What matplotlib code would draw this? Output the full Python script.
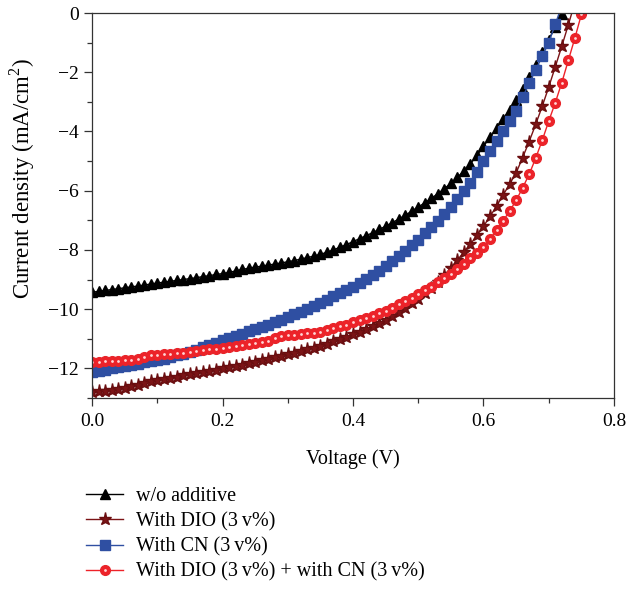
import matplotlib
matplotlib.use('Agg')
import matplotlib.pyplot as plt
from matplotlib.legend_handler import HandlerTuple
from matplotlib.ticker import MultipleLocator

plt.rcParams['font.family'] = ['Liberation Serif', 'DejaVu Serif']
plt.rcParams['mathtext.fontset'] = 'custom'
plt.rcParams['mathtext.rm'] = 'Liberation Serif'

# voltage sweep (V), 0.01 V steps
VOLTAGE = [0.00, 0.01, 0.02, 0.03, 0.04, 0.05, 0.06, 0.07, 0.08, 0.09,
           0.10, 0.11, 0.12, 0.13, 0.14, 0.15, 0.16, 0.17, 0.18, 0.19,
           0.20, 0.21, 0.22, 0.23, 0.24, 0.25, 0.26, 0.27, 0.28, 0.29,
           0.30, 0.31, 0.32, 0.33, 0.34, 0.35, 0.36, 0.37, 0.38, 0.39,
           0.40, 0.41, 0.42, 0.43, 0.44, 0.45, 0.46, 0.47, 0.48, 0.49,
           0.50, 0.51, 0.52, 0.53, 0.54, 0.55, 0.56, 0.57, 0.58, 0.59,
           0.60, 0.61, 0.62, 0.63, 0.64, 0.65, 0.66, 0.67, 0.68, 0.69,
           0.70, 0.71, 0.72, 0.73, 0.74, 0.75, 0.76]

# current density (mA/cm^2)
J_NONE = [-9.43, -9.40, -9.37, -9.34, -9.31, -9.28, -9.25, -9.22, -9.19, -9.15,
          -9.12, -9.09, -9.06, -9.03, -9.00, -8.97, -8.94, -8.90, -8.87, -8.83,
          -8.80, -8.76, -8.71, -8.66, -8.62, -8.58, -8.55, -8.51, -8.48, -8.44,
          -8.40, -8.36, -8.31, -8.26, -8.21, -8.15, -8.08, -8.00, -7.91, -7.82,
          -7.72, -7.62, -7.52, -7.42, -7.31, -7.20, -7.08, -6.96, -6.83, -6.69,
          -6.55, -6.41, -6.26, -6.10, -5.93, -5.75, -5.55, -5.33, -5.09, -4.81,
          -4.50, -4.20, -3.89, -3.58, -3.27, -2.95, -2.55, -2.15, -1.74, -1.32,
          -0.90, -0.47, -0.02]

J_DIO = [-12.80, -12.78, -12.75, -12.72, -12.69, -12.65, -12.61, -12.56, -12.50, -12.44,
         -12.40, -12.37, -12.33, -12.28, -12.24, -12.20, -12.16, -12.12, -12.08, -12.04,
         -12.00, -11.96, -11.92, -11.87, -11.83, -11.78, -11.73, -11.68, -11.63, -11.58,
         -11.52, -11.47, -11.41, -11.36, -11.30, -11.24, -11.17, -11.09, -11.02, -10.94,
         -10.85, -10.76, -10.67, -10.57, -10.46, -10.35, -10.22, -10.09, -9.95, -9.80,
         -9.65, -9.47, -9.28, -9.08, -8.85, -8.60, -8.34, -8.07, -7.80, -7.51,
         -7.20, -6.87, -6.52, -6.15, -5.78, -5.40, -4.88, -4.34, -3.76, -3.15,
         -2.50, -1.82, -1.12, -0.40, 0.35]

J_CN = [-12.12, -12.08, -12.04, -12.00, -11.96, -11.92, -11.88, -11.84, -11.80, -11.76,
        -11.72, -11.67, -11.62, -11.56, -11.51, -11.45, -11.37, -11.29, -11.21, -11.13,
        -11.05, -10.98, -10.90, -10.83, -10.75, -10.68, -10.60, -10.52, -10.44, -10.36,
        -10.28, -10.18, -10.08, -9.98, -9.88, -9.78, -9.68, -9.57, -9.47, -9.36,
        -9.25, -9.12, -8.99, -8.85, -8.70, -8.55, -8.38, -8.21, -8.03, -7.84,
        -7.65, -7.44, -7.23, -7.01, -6.78, -6.55, -6.29, -6.02, -5.73, -5.38,
        -5.00, -4.66, -4.32, -3.98, -3.64, -3.30, -2.84, -2.38, -1.92, -1.46,
        -1.00, -0.38, 0.25]

J_DIO_CN = [-11.78, -11.77, -11.76, -11.75, -11.74, -11.72, -11.71, -11.69, -11.62, -11.55,
            -11.54, -11.53, -11.51, -11.49, -11.47, -11.45, -11.42, -11.39, -11.36, -11.33,
            -11.30, -11.27, -11.24, -11.21, -11.18, -11.15, -11.12, -11.09, -10.98, -10.90,
            -10.88, -10.86, -10.84, -10.82, -10.80, -10.77, -10.71, -10.65, -10.58, -10.52,
            -10.45, -10.38, -10.30, -10.22, -10.14, -10.05, -9.95, -9.84, -9.73, -9.62,
            -9.50, -9.37, -9.24, -9.10, -8.95, -8.80, -8.63, -8.46, -8.28, -8.09,
            -7.90, -7.62, -7.33, -7.02, -6.69, -6.33, -5.90, -5.45, -4.90, -4.30,
            -3.65, -3.03, -2.35, -1.60, -0.85, -0.05, 0.75]

LABELS = ['w/o additive', 'With DIO (3\u2009v%)', 'With CN (3\u2009v%)',
          'With DIO (3\u2009v%) + with CN (3\u2009v%)']

fig = plt.figure(figsize=(6.28, 5.91), dpi=100)
ax = fig.add_axes([0.1465, 0.3266, 0.8312, 0.6514])

l1, = ax.plot(VOLTAGE[:len(J_NONE)], J_NONE, color='black', lw=1.0,
              marker='^', ms=7.5, mec='black', mfc='black')
l2, = ax.plot(VOLTAGE[:len(J_DIO)], J_DIO, color='#7b1416', lw=1.0,
              marker='*', ms=9.5, mec='#6a0e10', mfc='#7b1416')
l3, = ax.plot(VOLTAGE[:len(J_CN)], J_CN, color='#2f4fa2', lw=1.0,
              marker='s', ms=6.5, mec='#2f4fa2', mfc='#2f4fa2')
l4, = ax.plot(VOLTAGE[:len(J_DIO_CN)], J_DIO_CN, color='#ee2229', lw=1.0,
              marker='o', ms=7, mec='#e8252a', mfc='#ee2229')
# sphere highlight on the red markers
l4h, = ax.plot(VOLTAGE[:len(J_DIO_CN)], J_DIO_CN, ls='none',
               marker='o', ms=2.0, mec='none', mfc='#ffd6d6')

ax.set_xlim(0, 0.8)
ax.set_ylim(-13, 0)
ax.xaxis.set_major_locator(MultipleLocator(0.2))
ax.xaxis.set_minor_locator(MultipleLocator(0.1))
ax.yaxis.set_major_locator(MultipleLocator(2))
ax.yaxis.set_minor_locator(MultipleLocator(1))
ax.set_xticklabels([f'{t:.1f}' for t in ax.get_xticks()])
ax.tick_params(which='both', direction='out', top=False, right=False,
               labelsize=14, width=0.9, color='#333333')
ax.tick_params(which='major', length=6)
ax.tick_params(axis='x', which='major', pad=5)
ax.tick_params(which='minor', length=3.5)
for s in ax.spines.values():
    s.set_linewidth(0.9)
    s.set_color('#333333')

ax.set_xlabel('Voltage (V)', fontsize=14.5, labelpad=14)
ax.set_ylabel('Current density (mA/cm$^{2}$)', fontsize=16.5)
ax.yaxis.set_label_coords(-0.106, 0.571)

fig.legend([l1, l2, l3, (l4, l4h)], LABELS,
           handler_map={tuple: HandlerTuple(ndivide=1)}, numpoints=1,
           loc='upper left', bbox_to_anchor=(0.137, 0.176),
           frameon=False, fontsize=14.5, handlelength=1.85, handletextpad=0.65,
           labelspacing=0.3, borderpad=0, borderaxespad=0)

fig.savefig('out.png', dpi=100)
